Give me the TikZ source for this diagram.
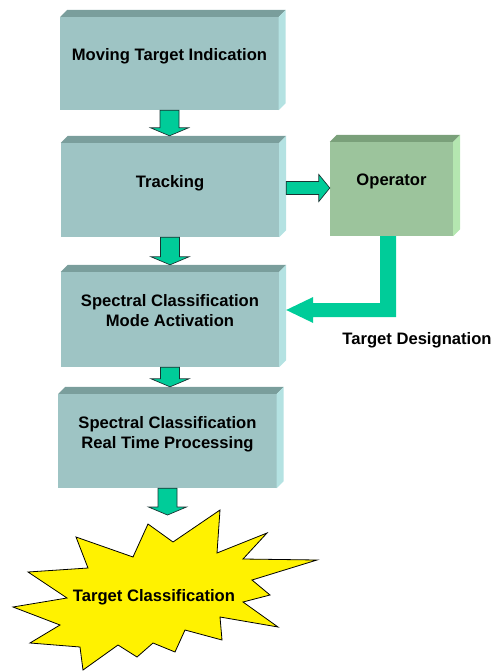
\documentclass[tikz,border=0pt]{standalone}
\usepackage{fontspec}
\setmainfont{Liberation Sans}
\usetikzlibrary{calc}
\definecolor{frontc}{HTML}{9EC4C4}
\definecolor{topc}{HTML}{7A9E9C}
\definecolor{sidec}{HTML}{B4E2E2}
\definecolor{opfront}{HTML}{9CC49C}
\definecolor{optop}{HTML}{7AA07A}
\definecolor{opside}{HTML}{B4E6B0}
\definecolor{arrowc}{HTML}{00CC99}
\definecolor{arrowline}{HTML}{1A3333}
\newcommand\faces[3]{%
  \fill[#2] (#1.north west) -- ++(7,-7) -- ($(#1.north east)+(7,-7)$) -- (#1.north east) -- cycle;
  \fill[#3] (#1.north east) -- ++(7,-7) -- ($(#1.south east)+(7,-7)$) -- (#1.south east) -- cycle;}
\newcommand\fatdown[2]{%
  \path[fatarrow] let \p1=(#1), \p2=(#2) in
  (\x1-9.5bp,\y1) -- (\x1+9.5bp,\y1) -- (\x1+9.5bp,\y2+8bp) -- (\x1+19bp,\y2+8bp)
  -- (\x1,\y2) -- (\x1-19bp,\y2+8bp) -- (\x1-9.5bp,\y2+8bp) -- cycle;}
\begin{document}
\begin{tikzpicture}[x=1bp,y=-1bp,
  box/.style={minimum width=218bp, minimum height=94bp, inner sep=0pt, fill=frontc, draw=none},
  opbox/.style={box, minimum width=123bp, fill=opfront},
  boxtext/.style={font=\bfseries\fontsize{16.6bp}{20bp}\selectfont, align=center, inner sep=0pt},
  fatarrow/.style={fill=arrowc, draw=arrowline, line width=0.7bp, line join=miter},
  lshape/.style={fill=arrowc, draw=none},
  star/.style={fill=yellow, draw=black, line width=0.8bp, line join=miter}]
\useasboundingbox (0,0) rectangle (494,671);

% boxes
\node[box, minimum height=93bp, label={[boxtext, name=t1, yshift=7.5bp]center:Moving Target Indication}] (b1) at (169.5,63.5) {};
\node[box, label={[boxtext, name=t2, yshift=6.5bp]center:Tracking}] (b2) at (170,190) {};
\node[box, minimum height=95bp, label={[boxtext, name=t3, yshift=8.5bp]center:Spectral Classification\\Mode Activation}] (b3) at (170,319.5) {};
\node[box, label={[boxtext, name=t4, yshift=6.5bp]center:Spectral Classification\\Real Time Processing}] (b4) at (167.5,441) {};
\node[opbox, label={[boxtext, name=t5, yshift=7.5bp]center:Operator}] (op) at (391.5,189) {};

\faces{b1}{topc}{sidec}
\faces{b2}{topc}{sidec}
\faces{b3}{topc}{sidec}
\faces{b4}{topc}{sidec}
\faces{op}{optop}{opside}

% star
\draw[star] (220,510) -- (217,553) -- (267,533) -- (243,559) -- (317,560) -- (252,580)
  -- (270,595) -- (243,602) -- (278,627) -- (220,617) -- (222,640) -- (185,630)
  -- (175,652) -- (153,643) -- (137,657) -- (118,645) -- (83,670) -- (80,647)
  -- (30,643) -- (60,625) -- (13,607) -- (67,598) -- (28,572) -- (88,568)
  -- (76,537) -- (133,557) -- (148,524) -- (173,542) -- cycle;
\node[boxtext] (tc) at (154,597.5) {Target Classification};
\coordinate (st) at (169.5,515);

% down arrows
\fatdown{b1.south}{$(b2.north)+(0,-7)$}
\fatdown{b2.south}{$(b3.north)+(0,-7)$}
\fatdown{b3.south}{$(b4.north)+(0,-7)$}
\fatdown{b4.south}{st}

% Tracking -> Operator
\path[fatarrow] let \p1=($(b2.east)+(7,-2)$), \p2=(op.west) in
  (\x1,\y1+6.5bp) -- (\x2-11bp,\y1+6.5bp) -- (\x2-11bp,\y1+13.5bp) -- (\x2,\y1)
  -- (\x2-11bp,\y1-13.5bp) -- (\x2-11bp,\y1-6.5bp) -- (\x1,\y1-6.5bp) -- cycle;

% Operator -> Spectral Classification Mode Activation
\path[lshape] let \p1=($(op.south)+(-3.5,0)$), \p2=($(b3.east)+(7,-9.5)$) in
  (\x1-8bp,\y1) -- (\x1+8bp,\y1) -- (\x1+8bp,\y2-7bp) -- (\x2+27bp,\y2-7bp)
  -- (\x2+27bp,\y2-13bp) -- (\x2,\y2) -- (\x2+27bp,\y2+13bp) -- (\x2+27bp,\y2+7bp)
  -- (\x1-8bp,\y2+7bp) -- cycle;
\node[boxtext] (td) at (417,340.5) {Target Designation};
\end{tikzpicture}
\end{document}
